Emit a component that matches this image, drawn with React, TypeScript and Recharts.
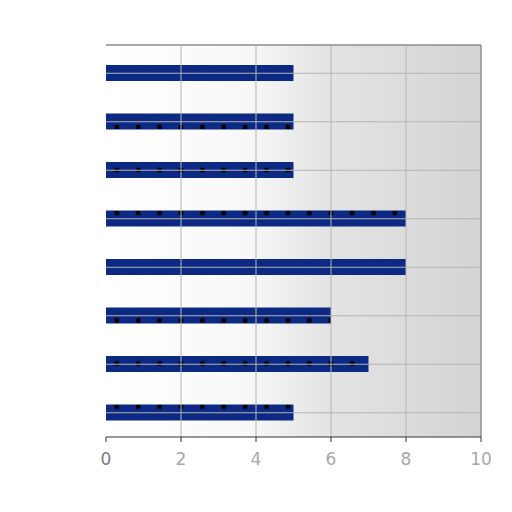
import React from 'react';
import {
  BarChart,
  Bar,
  XAxis,
  YAxis,
  CartesianGrid,
  ReferenceLine,
} from 'recharts';

const categories = ['A', 'B', 'C', 'D', 'E', 'F', 'G', 'H'];
const values = [5, 5, 5, 8, 8, 6, 7, 5];
const xTicks = [0, 2, 4, 6, 8, 10];

const data = categories.map((name, i) => ({ name, value: values[i] }));

const renderXTick = (props: any) => {
  const { x, y, payload } = props;
  return (
    <text
      x={x}
      y={y + 21}
      textAnchor="middle"
      fontSize={17}
      fontFamily="DejaVu Sans"
      fill={payload.value === 0 ? '#7a7a7a' : '#a8a8a8'}
    >
      {payload.value}
    </text>
  );
};

// top and right edges of the plot frame
const topEdge = ({ offset }: any) => [offset.top];
const rightEdge = ({ offset }: any) => [offset.left + offset.width];

export default function App() {
  return (
    <div style={{ position: 'absolute', left: 0, top: 0, width: 512, height: 512, background: '#fff' }}>
      <BarChart
        width={512}
        height={512}
        data={data}
        layout="vertical"
        margin={{ top: 45, right: 31, bottom: 45, left: 106 }}
      >
        <defs>
          <linearGradient id="bg" x1="0" y1="0" x2="1" y2="0">
            <stop offset="0%" stopColor="#ffffff" />
            <stop offset="38%" stopColor="#f8f8f8" />
            <stop offset="58%" stopColor="#e4e4e4" />
            <stop offset="100%" stopColor="#d4d4d4" />
          </linearGradient>
          <pattern
            id="dots"
            patternUnits="userSpaceOnUse"
            x={106}
            y={116.25}
            width={21.4}
            height={21.5}
          >
            <rect width={21.4} height={21.5} fill="#0c2983" />
            <rect x={8.5} y={8.5} width={4.5} height={4.5} fill="#000" />
          </pattern>
        </defs>
        <CartesianGrid
          fill="url(#bg)"
          stroke="#8c8c8c"
          strokeWidth={1.5}
          horizontalCoordinatesGenerator={topEdge}
          verticalCoordinatesGenerator={rightEdge}
        />
        <XAxis
          type="number"
          domain={[0, 10]}
          ticks={xTicks}
          height={30}
          tickSize={5}
          stroke="#333"
          tick={renderXTick}
          interval={0}
        />
        <YAxis
          type="category"
          dataKey="name"
          width={0}
          tickSize={4}
          stroke="#333"
          tickFormatter={() => ''}
          padding={{ top: 4, bottom: 0 }}
        />
        <Bar dataKey="value" fill="url(#dots)" barSize={16} isAnimationActive={false} />
        {xTicks.slice(1, -1).map((t) => (
          <ReferenceLine key={'x' + t} x={t} stroke="#b4b4b4" strokeWidth={1} />
        ))}
        {categories.map((c) => (
          <ReferenceLine key={'y' + c} y={c} stroke="#b4b4b4" strokeWidth={1} />
        ))}
      </BarChart>
    </div>
  );
}
